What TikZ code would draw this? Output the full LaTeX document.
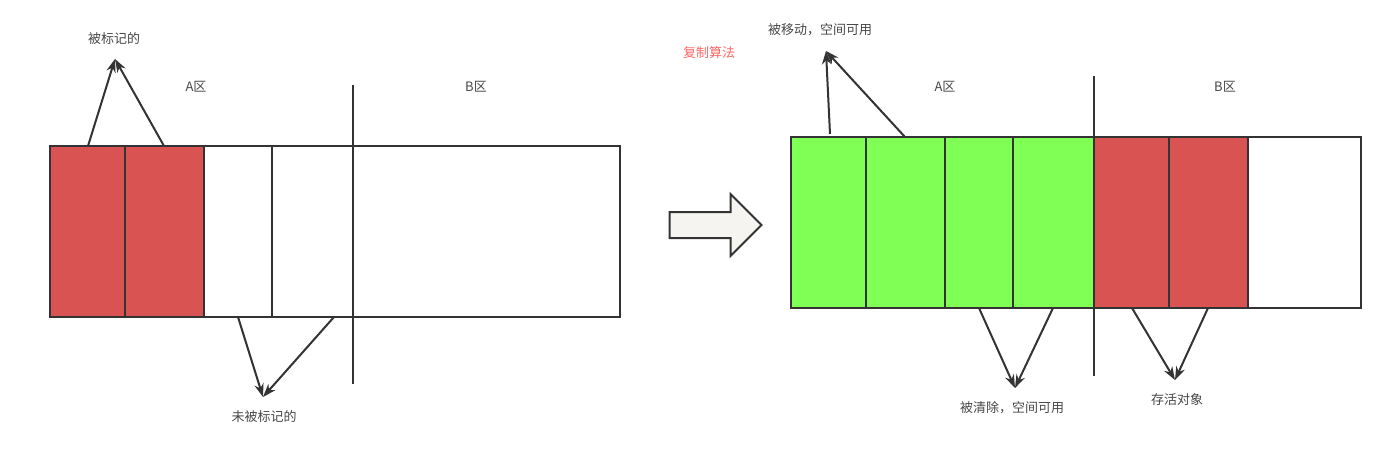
\documentclass[tikz,border=0pt]{standalone}
\usepackage{fontspec}
\setmainfont{Noto Sans CJK SC}
\usetikzlibrary{arrows.meta,shapes.arrows}
\definecolor{markred}{RGB}{217,83,82}
\definecolor{freegreen}{RGB}{128,255,85}
\definecolor{linegray}{RGB}{51,51,51}
\definecolor{titlered}{RGB}{255,102,102}
\definecolor{arrowfill}{RGB}{245,244,240}
\tikzset{
  cell/.style={draw=linegray, line width=1.5pt},
  divider/.style={draw=linegray, line width=1.5pt},
  pointer/.style={-{Stealth[length=10pt,width=7pt]}, draw=linegray, line width=1.5pt},
  lbl/.style={text=linegray!90, font=\fontsize{9.75}{12}\selectfont, inner sep=1pt}
}
\begin{document}
\begin{tikzpicture}[x=0.75pt, y=-0.75pt]
  \useasboundingbox (0,0) rectangle (1396,455);

  % Before copying
  \fill[markred] (50,146) rectangle (204,317);
  \draw[cell] (50,146) rectangle (620,317);
  \draw[cell] (125,146) -- (125,317);
  \draw[cell] (204,146) -- (204,317);
  \draw[cell] (272,146) -- (272,317);
  \draw[divider] (353,85) -- (353,384);
  \node[lbl] (aleft) at (196,87) {A区};
  \node[lbl] (bleft) at (476,87) {B区};

  % Marked objects
  \node[lbl] (marked) at (114,39) {被标记的};
  \coordinate (m1) at (88,146);
  \coordinate (m2) at (164,146);
  \coordinate (mtip) at (115,59);
  \draw[pointer] (m1) -- (mtip);
  \draw[pointer] (m2) -- (mtip);

  % Unmarked objects
  \node[lbl] (unmarked) at (264,417) {未被标记的};
  \coordinate (u1) at (238,317);
  \coordinate (u2) at (334,317);
  \coordinate (utip) at (263,397);
  \draw[pointer] (u1) -- (utip);
  \draw[pointer] (u2) -- (utip);

  % Copy step
  \node[lbl, text=titlered] (algo) at (709,53) {复制算法};
  \node[single arrow, draw=linegray, fill=arrowfill, line width=1.5pt,
        minimum height=69pt, inner xsep=0pt, inner ysep=9pt,
        single arrow head extend=13.5pt] (step1) at (709,225) {};

  % After copying
  \fill[freegreen] (791,137) rectangle (1094,308);
  \fill[markred] (1094,137) rectangle (1248,308);
  \draw[cell] (791,137) rectangle (1361,308);
  \foreach \x in {866,945,1013,1169,1248}
    \draw[cell] (\x,137) -- (\x,308);
  \draw[divider] (1094,76) -- (1094,376);
  \node[lbl] (aright) at (945,87) {A区};
  \node[lbl] (bright) at (1225,87) {B区};

  % Moved objects
  \node[lbl] (moved) at (820,30) {被移动，空间可用};
  \coordinate (v1) at (830,134);
  \coordinate (v2) at (905,137);
  \coordinate (vtip) at (826,51);
  \draw[pointer] (v1) -- (vtip);
  \draw[pointer] (v2) -- (vtip);

  % Cleared objects
  \node[lbl] (cleared) at (1012,408) {被清除，空间可用};
  \coordinate (c1) at (979,308);
  \coordinate (c2) at (1053,308);
  \coordinate (ctip) at (1015,388);
  \draw[pointer] (c1) -- (ctip);
  \draw[pointer] (c2) -- (ctip);

  % Live objects
  \node[lbl] (alive) at (1177,400) {存活对象};
  \coordinate (l1) at (1132,308);
  \coordinate (l2) at (1208,308);
  \coordinate (ltip) at (1175,380);
  \draw[pointer] (l1) -- (ltip);
  \draw[pointer] (l2) -- (ltip);

\end{tikzpicture}
\end{document}
